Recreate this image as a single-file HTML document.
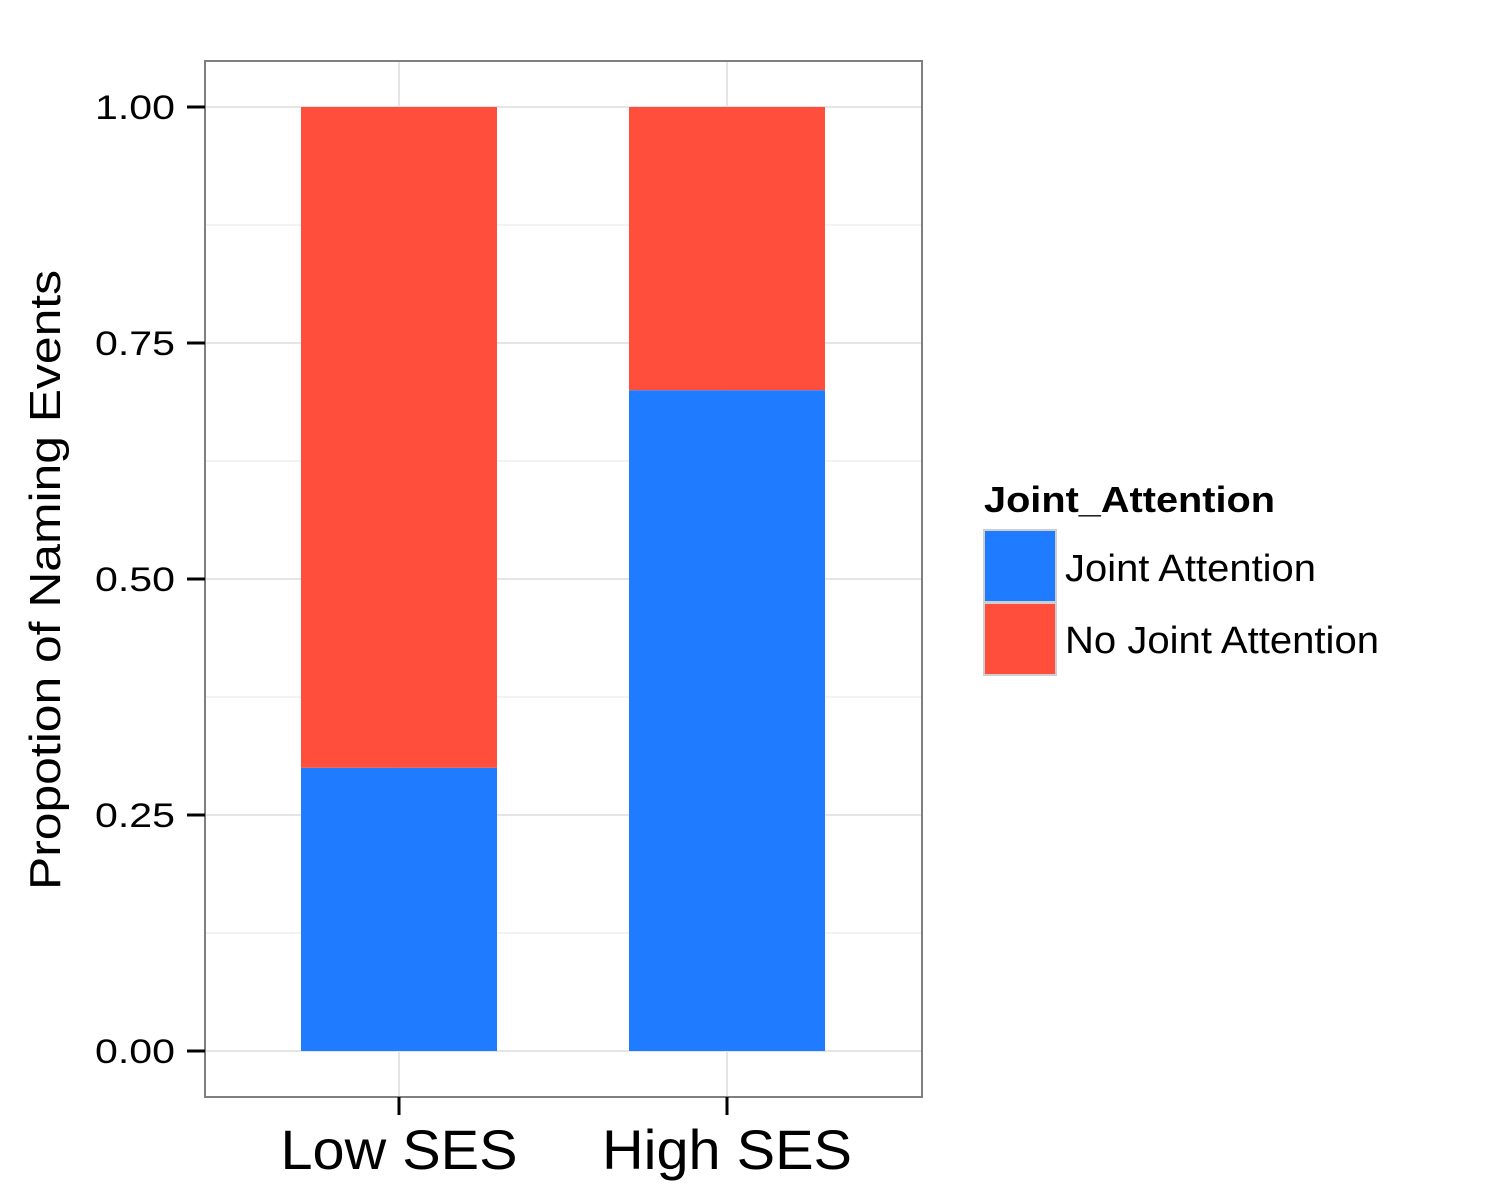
<!DOCTYPE html>
<html><head><meta charset="utf-8"><style>
html,body{margin:0;padding:0;background:#fff;}
svg{display:block;font-family:"Liberation Sans",Arial,sans-serif;}
</style></head><body>
<svg id="chart" width="1500" height="1200">
<rect x="205" y="61" width="717" height="1036" fill="#fff" stroke="#7f7f7f" stroke-width="2"/>
<g id="grid"></g><g id="bars"></g><g id="axes"></g>
<text transform="translate(60,580) rotate(-90)" text-anchor="middle" font-size="44" textLength="620" lengthAdjust="spacingAndGlyphs" fill="#000">Propotion of Naming Events</text>
<g>
<text x="984" y="512" font-size="36" font-weight="bold" textLength="291" lengthAdjust="spacingAndGlyphs">Joint_Attention</text>
<rect x="984" y="530" width="72" height="72" fill="#1f7bff" stroke="#cfcfcf" stroke-width="2"/>
<text x="1065" y="581" font-size="38" textLength="251" lengthAdjust="spacingAndGlyphs">Joint Attention</text>
<rect x="984" y="603" width="72" height="72" fill="#ff4f3c" stroke="#cfcfcf" stroke-width="2"/>
<text x="1065" y="653" font-size="38" textLength="314" lengthAdjust="spacingAndGlyphs">No Joint Attention</text>
</g>
</svg>
<script>
const categories = ["Low SES", "High SES"];
const jointValues = [0.30, 0.70];
const noJointValues = [0.70, 0.30];
const yTicks = [0, 0.25, 0.5, 0.75, 1.0];
const yTickLabels = ["0.00", "0.25", "0.50", "0.75", "1.00"];

const NS = "http://www.w3.org/2000/svg";
const y = v => 1051 - v * 944;
const xCenter = i => 399 + i * 328;
const barW = 196;
const catLabelW = [237, 250];
function mk(tag, attrs, parent) {
  const e = document.createElementNS(NS, tag);
  for (const k in attrs) e.setAttribute(k, attrs[k]);
  parent.appendChild(e);
  return e;
}
const grid = document.getElementById('grid'), bars = document.getElementById('bars'), axes = document.getElementById('axes');
for (let i = 0; i < yTicks.length - 1; i++) {
  const m = (yTicks[i] + yTicks[i + 1]) / 2;
  const l = mk('line', {x1: 206, x2: 921, y1: y(m), y2: y(m), stroke: '#f2f2f2', 'stroke-width': 2}, grid);
  
  
}
yTicks.forEach((t, i) => {
  const l = mk('line', {x1: 206, x2: 921, y1: y(t), y2: y(t), stroke: '#e5e5e5', 'stroke-width': 2}, grid);
  
  
  const tk = mk('line', {x1: 187, x2: 205, y1: y(t), y2: y(t), stroke: '#000', 'stroke-width': 3}, axes);
  
  
  const tx = mk('text', {x: 175, y: y(t) + 12, 'text-anchor': 'end', 'font-size': 34, textLength: 80, lengthAdjust: 'spacingAndGlyphs'}, axes);
  tx.textContent = yTickLabels[i];
  
  
});
categories.forEach((c, i) => {
  const cx = xCenter(i);
  const g = mk('line', {x1: cx, x2: cx, y1: 62, y2: 1096, stroke: '#e5e5e5', 'stroke-width': 2}, grid);
  
  
  const b1 = mk('rect', {x: cx - barW / 2, y: y(jointValues[i]), width: barW, height: y(0) - y(jointValues[i]), fill: '#1f7bff'}, bars);
  
  
  const top = jointValues[i] + noJointValues[i];
  const b2 = mk('rect', {x: cx - barW / 2, y: y(top), width: barW, height: y(jointValues[i]) - y(top), fill: '#ff4f3c'}, bars);
  
  
  const tk = mk('line', {x1: cx, x2: cx, y1: 1097, y2: 1115, stroke: '#000', 'stroke-width': 3}, axes);
  
  
  const tx = mk('text', {x: cx, y: 1169, 'text-anchor': 'middle', 'font-size': 56, textLength: catLabelW[i], lengthAdjust: 'spacingAndGlyphs'}, axes);
  tx.textContent = c;
  
  
});
</script>
</body></html>
